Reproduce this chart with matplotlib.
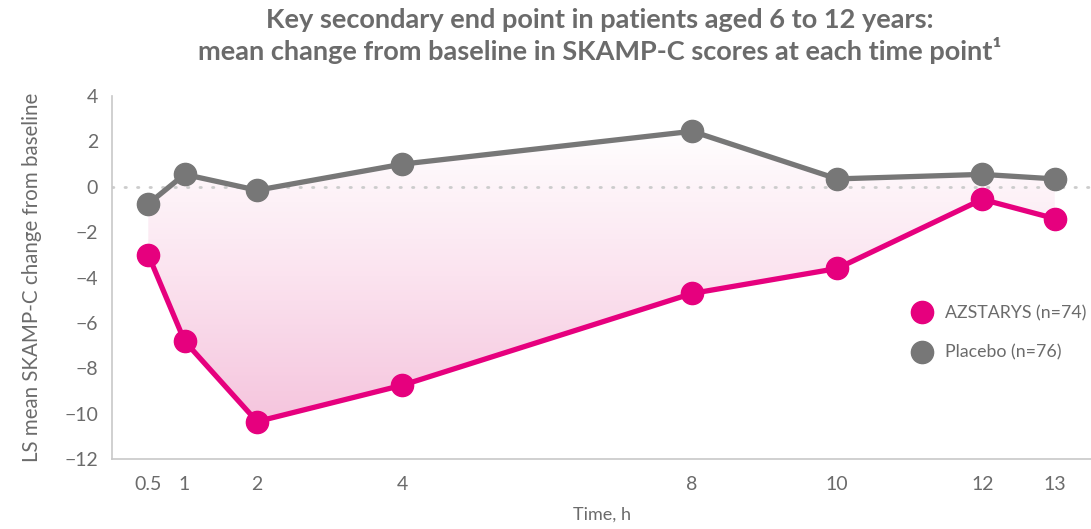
import numpy as np
import matplotlib
matplotlib.use("Agg")
import matplotlib.pyplot as plt
from matplotlib.lines import Line2D
from matplotlib.colors import LinearSegmentedColormap

plt.rcParams['font.family'] = ['Lato', 'DejaVu Sans']

# time points (h) and LS mean change from baseline
hours = [0.5, 1, 2, 4, 8, 10, 12, 13]
azstarys = [-3.0, -6.8, -10.35, -8.75, -4.7, -3.6, -0.55, -1.4]
placebo = [-0.75, 0.55, -0.15, 1.0, 2.45, 0.35, 0.55, 0.35]

pink = '#e6007e'
grey = '#777777'
text_grey = '#6b6b6b'

fig = plt.figure(figsize=(10.91, 5.29), dpi=100)
ax = fig.add_axes([0.1027, 0.1323, 0.8973, 0.686])

# shaded gap between the two curves, fading towards the top
xs = np.array(hours)
verts = list(zip(xs, placebo)) + list(zip(xs[::-1], azstarys[::-1]))
poly = plt.Polygon(verts, closed=True, facecolor='none', edgecolor='none')
ax.add_patch(poly)
cmap = LinearSegmentedColormap.from_list('fade', ['#f5c4dd', '#fbe3ef', '#ffffff'])
grad = np.linspace(0, 1, 256).reshape(-1, 1)
img = ax.imshow(grad, extent=[0.5, 13, -10.5, 2.6], origin='lower',
                cmap=cmap, aspect='auto', zorder=1)
img.set_clip_path(poly)

# zero reference line
ax.axhline(0, color='#cccccc', lw=2, ls=(0, (0.5, 4)), dash_capstyle='round', zorder=2)

ax.plot(hours, placebo, color=grey, lw=3.8, marker='o', ms=16, zorder=4)
ax.plot(hours, azstarys, color=pink, lw=3.8, marker='o', ms=16, zorder=5)

ax.set_xlim(0, 13.5)
ax.set_ylim(-12, 4)
ax.set_xticks(hours)
ax.set_xticklabels(['0.5', '1', '2', '4', '8', '10', '12', '13'])
ax.set_yticks(range(-12, 5, 2))
ax.tick_params(length=0, labelsize=14, labelcolor=text_grey)
ax.tick_params(axis='x', pad=12)
ax.tick_params(axis='y', pad=10)

for side in ['top', 'right']:
    ax.spines[side].set_visible(False)
for side in ['left', 'bottom']:
    ax.spines[side].set_color('#c8c8c8')
    ax.spines[side].set_linewidth(1.2)

ax.set_ylabel('LS mean SKAMP-C change from baseline', fontsize=14.8,
              color=text_grey, labelpad=16)
ax.set_xlabel('Time, h', fontsize=13, color=text_grey, labelpad=10)

fig.text(0.55, 0.985, 'Key secondary end point in patients aged 6 to 12 years:\n'
         'mean change from baseline in SKAMP-C scores at each time point¹',
         ha='center', va='top', fontsize=19.5, fontweight='bold',
         color=text_grey, linespacing=1.2)

handles = [Line2D([], [], ls='none', marker='o', ms=16, color=pink),
           Line2D([], [], ls='none', marker='o', ms=16, color=grey)]
ax.legend(handles, ['AZSTARYS (n=74)', 'Placebo (n=76)'], loc='center left',
          bbox_to_anchor=(0.80, 0.347), frameon=False, fontsize=12.8,
          labelcolor=text_grey, handletextpad=0.3, labelspacing=1.3,
          borderpad=0)

fig.savefig('out.png', dpi=100)
